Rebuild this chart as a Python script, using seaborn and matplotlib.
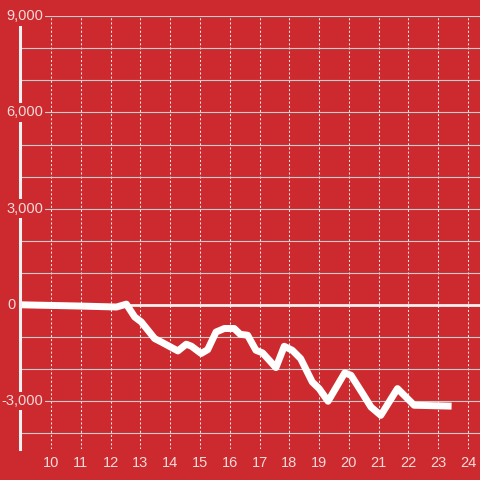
import matplotlib
matplotlib.use("Agg")
import matplotlib.pyplot as plt
from matplotlib.ticker import MultipleLocator
import seaborn as sns

# data
hours = [8.96, 11.0, 12.2, 12.53, 12.81, 13.03, 13.48, 13.7, 14.26, 14.54, 14.71,
         15.04, 15.26, 15.54, 15.82, 16.15, 16.35, 16.6, 16.88, 17.1, 17.55, 17.83,
         18.1, 18.38, 18.77, 19.0, 19.3, 19.86, 20.07, 20.46, 20.74, 21.07, 21.63,
         22.19, 23.33]
values = [0, -40, -70, 20, -380, -535, -1055, -1160, -1440, -1230, -1290,
          -1520, -1400, -850, -740, -740, -920, -950, -1420, -1500, -1960, -1295,
          -1420, -1680, -2410, -2615, -3010, -2125, -2200, -2770, -3190, -3450, -2615,
          -3135, -3160]
x_ticks = list(range(10, 25))
y_ticks = [-3000, 0, 3000, 6000, 9000]

BG = "#cc2a2e"
TXT = "#f4dada"

sns.set_style("white", {"axes.facecolor": BG, "figure.facecolor": BG})
plt.rcParams["font.family"] = ["Liberation Sans", "DejaVu Sans"]

fig = plt.figure(figsize=(4.8, 4.8), dpi=100)
ax = fig.add_axes([20 / 480, 31 / 480, 460 / 480, 433 / 480])

ax.set_xlim(8.96, 24.4)
ax.set_ylim(-4500, 9010)

# grid
ax.yaxis.set_major_locator(MultipleLocator(3000))
ax.yaxis.set_minor_locator(MultipleLocator(1000))
ax.grid(axis="y", which="both", color="#cccccc", lw=0.8, linestyle="-")
ax.set_xticks(x_ticks)
ax.grid(axis="x", which="major", color="#f0e6e6", lw=0.75, linestyle=(0, (2, 2)))
ax.set_axisbelow(True)

for s in ["top", "right", "bottom"]:
    ax.spines[s].set_visible(False)
ax.spines["left"].set_color("#f0f0f0")
ax.spines["left"].set_linewidth(2.2)

ax.axhline(0, color="#f0f0f0", lw=2.0, zorder=1.8)

sns.lineplot(x=hours, y=values, ax=ax, color="white", lw=5,
             solid_capstyle="projecting", solid_joinstyle="round", zorder=2.2)

# x labels
ax.tick_params(axis="x", length=0, pad=5, labelsize=10.5, labelcolor=TXT)
ax.set_xticklabels([str(t) for t in x_ticks])
ax.tick_params(axis="y", which="both", length=0, labelleft=False)

# y labels drawn over the spine with a red box
for v in y_ticks:
    xa = -0.0087 if v == 0 else 0.05
    ax.text(xa, v, f"{v:,.0f}", transform=ax.get_yaxis_transform(),
            ha="right", va="center", fontsize=10.5, color=TXT, zorder=5,
            clip_on=False,
            bbox=dict(boxstyle="square,pad=0.15", fc=BG, ec="none"))

ax.set_xlabel("")
ax.set_ylabel("")

fig.savefig("out.png", dpi=100, facecolor=BG)
